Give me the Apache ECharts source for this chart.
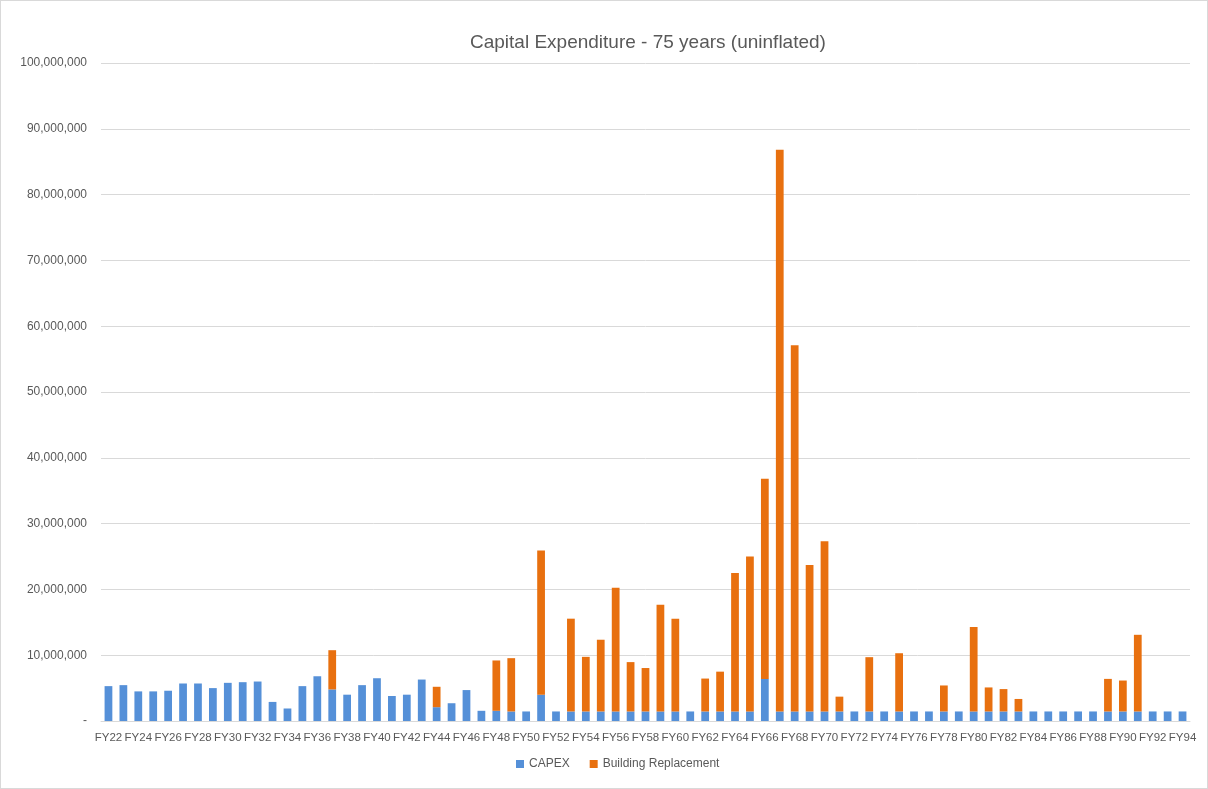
<!DOCTYPE html>
<html>
<head>
<meta charset="utf-8">
<script src="https://cdn.jsdelivr.net/npm/echarts@6/dist/echarts.min.js"></script>
<style>
  html, body { margin: 0; padding: 0; background: #fff; }
  #main { width: 1206px; height: 787px; border: 1px solid #d9d9d9; }
</style>
</head>
<body>
<div id="main"></div>
<script>
// FY22 .. FY94
const years = []
for (let y = 22; y <= 94; y++) years.push('FY' + y)

// values in millions
const capex = [
  5.3, 5.45, 4.5, 4.5, 4.6, 5.7, 5.7, 5.0, 5.8, 5.9,
  6.0, 2.9, 1.9, 5.3, 6.8, 4.8, 4.0, 5.45, 6.5, 3.8,
  4.0, 6.3, 2.1, 2.7, 4.7, 1.55, 1.55, 1.45, 1.45, 4.0,
  1.45, 1.45, 1.45, 1.45, 1.45, 1.45, 1.45, 1.45, 1.45, 1.45,
  1.45, 1.45, 1.45, 1.45, 6.4, 1.45, 1.45, 1.45, 1.45, 1.45,
  1.45, 1.45, 1.45, 1.45, 1.45, 1.45, 1.45, 1.45, 1.45, 1.45,
  1.45, 1.45, 1.45, 1.45, 1.45, 1.45, 1.45, 1.45, 1.45, 1.45,
  1.45, 1.45, 1.45
]
const replacement = [
  0, 0, 0, 0, 0, 0, 0, 0, 0, 0,
  0, 0, 0, 0, 0, 5.96, 0, 0, 0, 0,
  0, 0, 3.1, 0, 0, 0, 7.65, 8.1, 0, 21.9,
  0, 14.1, 8.3, 10.9, 18.8, 7.5, 6.6, 16.2, 14.1, 0,
  5.0, 6.05, 21.05, 23.55, 30.4, 85.35, 55.65, 22.25, 25.85, 2.25,
  0, 8.25, 0, 8.85, 0, 0, 3.95, 0, 12.85, 3.65,
  3.4, 1.9, 0, 0, 0, 0, 0, 4.95, 4.7, 11.65,
  0, 0, 0
]

const toUnits = arr => arr.map(v => Math.round(v * 1e6))

const chart = echarts.init(document.getElementById('main'))
const txt = '#595959'
const font = 'Liberation Sans'

const option = {
  animation: false,
  textStyle: { fontFamily: font },
  title: {
    text: 'Capital Expenditure - 75 years (uninflated)',
    left: 464,
    top: 27,
    textStyle: { fontFamily: font, fontSize: 19, fontWeight: 'normal', color: txt }
  },
  legend: {
    bottom: 13,
    left: 510,
    itemWidth: 8,
    itemHeight: 8,
    itemGap: 20,
    icon: 'rect',
    textStyle: { fontFamily: font, fontSize: 12, color: txt },
    data: ['CAPEX', 'Building Replacement']
  },
  grid: { left: 100, right: 17, top: 62, bottom: 67 },
  xAxis: {
    type: 'category',
    data: years,
    axisLine: { lineStyle: { color: '#d9d9d9' } },
    axisTick: { interval: 1, length: 5, lineStyle: { color: '#d9d9d9' } },
    axisLabel: { interval: 1, color: txt, fontSize: 11.5, margin: 11, fontFamily: font }
  },
  yAxis: {
    type: 'value',
    min: 0,
    max: 100000000,
    interval: 10000000,
    axisLine: { show: false },
    axisTick: { show: false },
    splitLine: { lineStyle: { color: '#d9d9d9' } },
    axisLabel: {
      color: txt,
      fontSize: 12,
      margin: 14,
      fontFamily: font,
      formatter: v => v === 0 ? '-' : v.toLocaleString('en-US')
    }
  },
  series: [
    {
      name: 'CAPEX',
      type: 'bar',
      stack: 'total',
      barCategoryGap: '48%',
      itemStyle: { color: '#5590d8' },
      data: toUnits(capex)
    },
    {
      name: 'Building Replacement',
      type: 'bar',
      stack: 'total',
      barCategoryGap: '48%',
      itemStyle: { color: '#e8700f' },
      data: toUnits(replacement)
    }
  ]
}

chart.setOption(option)
</script>
</body>
</html>
